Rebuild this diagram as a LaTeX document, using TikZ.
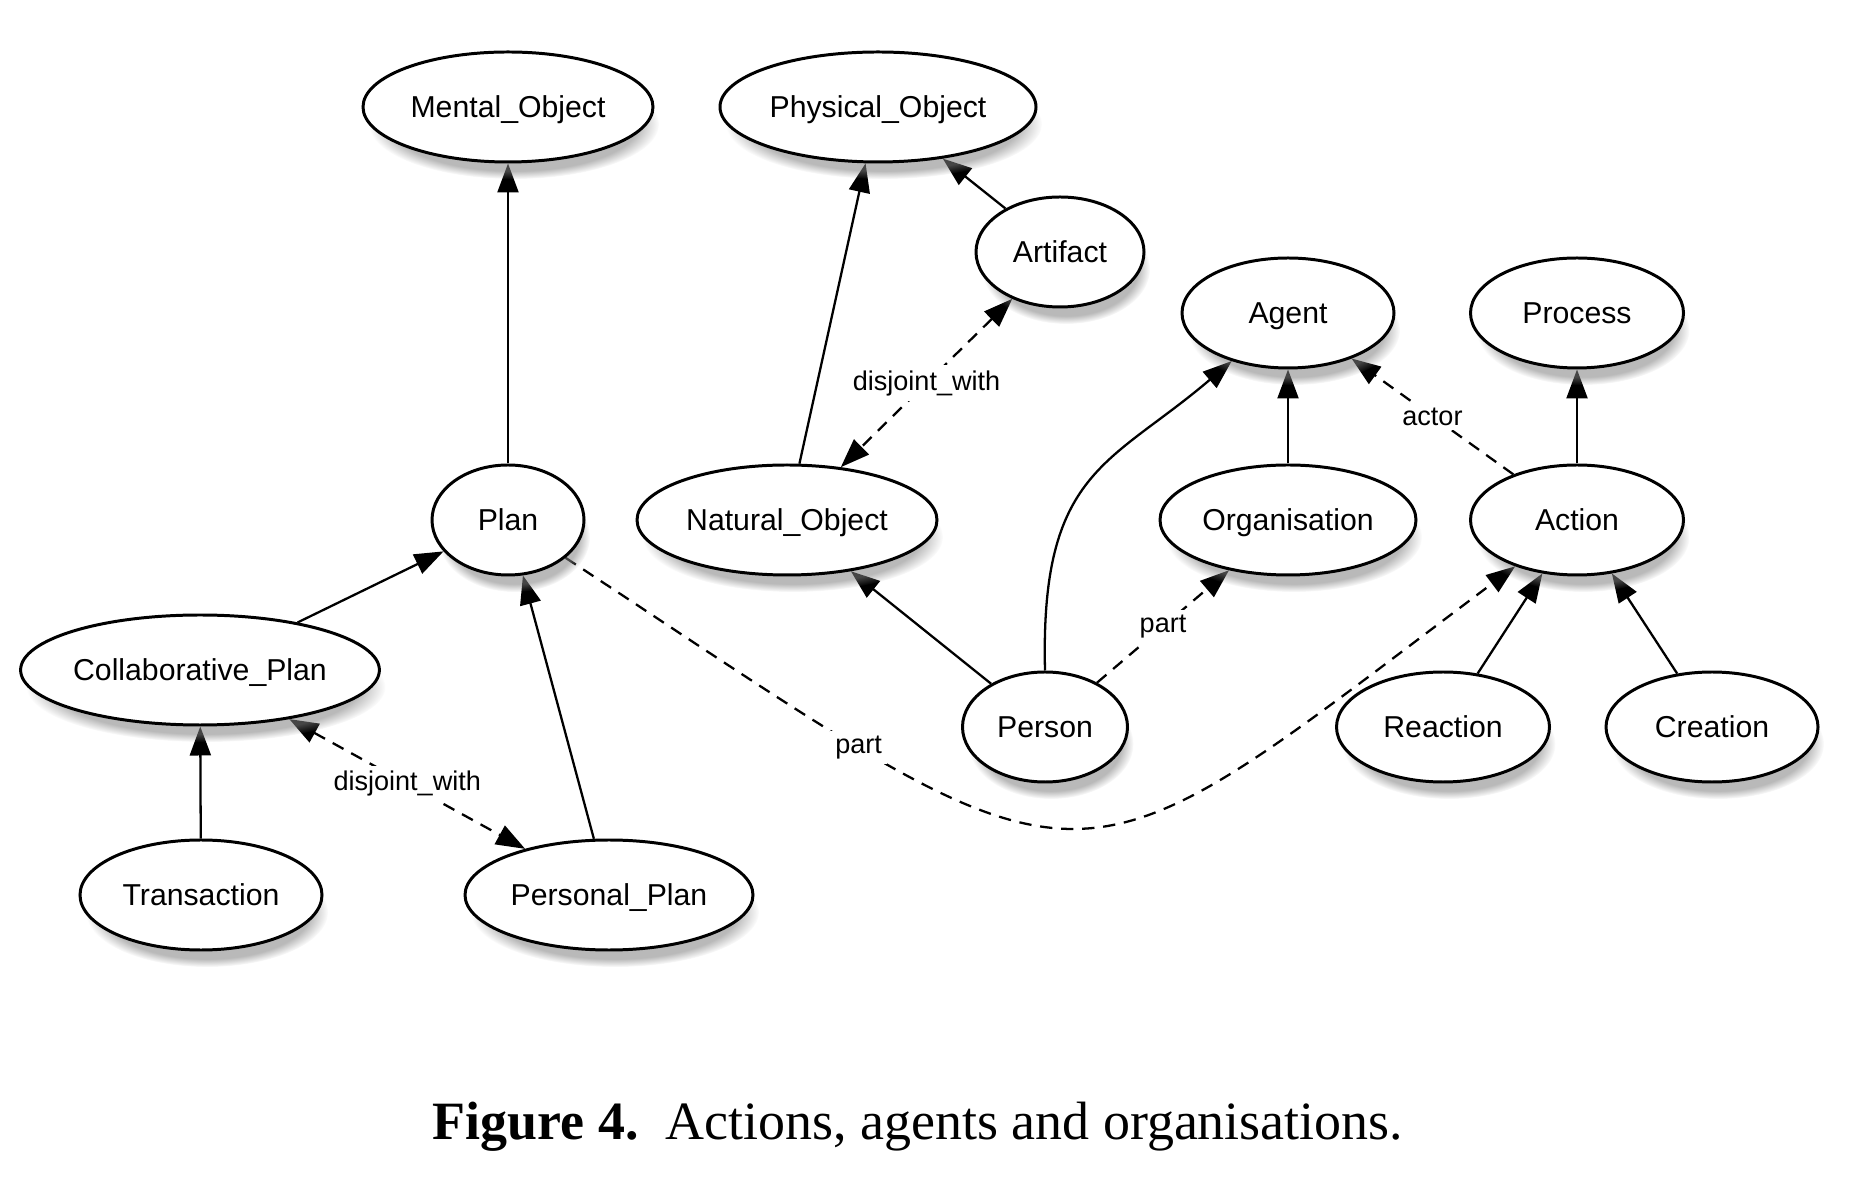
\documentclass[tikz,border=0pt]{standalone}
\usepackage{fontspec}
\setmainfont{Liberation Sans}
\newfontfamily\capfont{Liberation Serif}
\usetikzlibrary{shapes.geometric,arrows.meta,shadows}
\pgfdeclarelayer{bg}
\pgfsetlayers{bg,main}
\tikzset{
    cls/.style={ellipse, draw, line width=1.7pt, fill=white, minimum height=2.2cm, inner sep=0mm,
      text depth=0pt, font=\fontsize{17.2}{19}\selectfont,
      circular drop shadow={shadow xshift=0.12cm, shadow yshift=-0.34cm, shadow scale=1, opacity=0.55}}
}
\tikzset{lbl/.style={shape=rectangle, draw=none, fill=white, inner sep=1mm, font=\fontsize{15.4}{17}\selectfont}}
\tikzset{isa/.style={line width=1.3pt, -{Triangle[length=0.58cm,width=0.42cm]}}}
\tikzset{rel/.style={isa, dash pattern=on 7pt off 5pt}}
\tikzset{dis/.style={rel, {Triangle[length=0.58cm,width=0.42cm]}-{Triangle[length=0.58cm,width=0.42cm]}}}

\begin{document}
\begin{tikzpicture}
  \useasboundingbox (0cm, 0cm) rectangle (37.36cm, 23.84cm);

  \node[cls, minimum width=5.8cm] (mental) at (10.16cm, 21.70cm) {Mental\_Object};
  \node[cls, minimum width=6.32cm] (physical) at (17.56cm, 21.70cm) {Physical\_Object};
  \node[cls, minimum width=3.36cm] (artifact) at (21.20cm, 18.80cm) {Artifact};
  \node[cls, minimum width=4.24cm] (agent) at (25.76cm, 17.58cm) {Agent};
  \node[cls, minimum width=4.26cm] (process) at (31.54cm, 17.58cm) {Process};

  \node[cls, minimum width=3.04cm] (plan) at (10.16cm, 13.44cm) {Plan};
  \node[cls, minimum width=6.0cm] (natural) at (15.74cm, 13.44cm) {Natural\_Object};
  \node[cls, minimum width=5.12cm] (organisation) at (25.76cm, 13.44cm) {Organisation};
  \node[cls, minimum width=4.26cm] (action) at (31.54cm, 13.44cm) {Action};

  \node[cls, minimum width=7.16cm] (collab) at (4.0cm, 10.44cm) {Collaborative\_Plan};
  \node[cls, minimum width=3.3cm] (person) at (20.90cm, 9.30cm) {Person};
  \node[cls, minimum width=4.26cm] (reaction) at (28.86cm, 9.30cm) {Reaction};
  \node[cls, minimum width=4.24cm] (creation) at (34.24cm, 9.30cm) {Creation};

  \node[cls, minimum width=4.84cm] (transaction) at (4.02cm, 5.94cm) {Transaction};
  \node[cls, minimum width=5.76cm] (personal) at (12.18cm, 5.94cm) {Personal\_Plan};

  \node[font=\capfont\fontsize{30.7}{34}\selectfont] (caption) at (18.36cm, 1.30cm)
    {\textbf{Figure 4.}\ \ Actions, agents and organisations.};

  \begin{pgfonlayer}{bg}
	  \draw[isa] (plan) -- (mental);
	  \draw[isa] (natural) -- (physical); \draw[isa] (artifact) -- (physical);
	  \draw[dis] (artifact) -- node[lbl] {disjoint\_with} (natural);

	  \draw[isa] (collab) -- (plan); \draw[isa] (personal) -- (plan);
	  \draw[isa] (transaction) -- (collab);
	  \draw[dis] (collab) -- node[lbl] {disjoint\_with} (personal);

	  \draw[rel] (plan) .. controls (22.18cm, 5.54cm) and (21.0cm, 5.54cm) .. (action)
	    node[lbl, pos=0.23] {part};

	  \draw[isa] (person) -- (natural);
	  \draw[isa] (person.north) .. controls (20.80cm, 14.44cm) and (22.20cm, 14.54cm) .. (agent);
	  \draw[rel] (person) -- node[lbl] {part} (organisation);

	  \draw[isa] (organisation) -- (agent);
	  \draw[isa] (action) -- (process);
	  \draw[rel] (action) -- node[lbl] {actor} (agent);
	  \draw[isa] (reaction) -- (action); \draw[isa] (creation) -- (action);
  \end{pgfonlayer}
\end{tikzpicture}
\end{document}
